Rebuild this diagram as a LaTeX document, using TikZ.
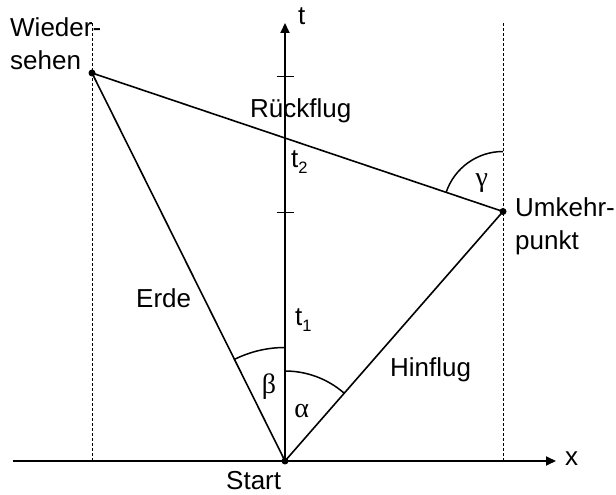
\documentclass[tikz,border=0pt]{standalone}
\usepackage{fontspec}
\setmainfont{Liberation Sans}
\newfontfamily\greekfont{Liberation Serif}
\usetikzlibrary{arrows.meta,angles}
\begin{document}
\begin{tikzpicture}[x=1pt,y=1pt,
  lbl/.style={font=\fontsize{26}{30}\selectfont, inner sep=0pt, anchor=base west},
  glbl/.style={font=\greekfont\fontsize{28}{30}\selectfont, inner sep=0pt},
  axis/.style={line width=1.8pt, -{Triangle[length=10pt,width=9pt]}},
  side/.style={line width=1.6pt},
  guide/.style={line width=0.8pt, dash pattern=on 3pt off 2pt},
  dot/.style={circle, fill=black, inner sep=0pt, minimum size=7pt},
  arcstyle/.style={draw, line width=1.5pt}
]
\useasboundingbox (0,0) rectangle (616,495);
% key points
\coordinate (S) at (285,34);
\coordinate (W) at (92,422);
\coordinate (U) at (503,283.5);
\coordinate (xl) at (12.7,34);
\coordinate (xr) at (556,34);
\coordinate (tt) at (285,472);
\coordinate (up) at (285,300);
\coordinate (Uup) at (503,400);
\coordinate (gl1) at (92,473);
\coordinate (gl0) at (92,34);
\coordinate (gr1) at (503,473);
\coordinate (gr0) at (503,34);
\coordinate (k1l) at (276.5,418.3);
\coordinate (k1r) at (293.5,418.3);
\coordinate (k2l) at (276.5,282.7);
\coordinate (k2r) at (293.5,282.7);
% guides
\draw[guide] (gl0) -- (gl1);
\draw[guide] (gr0) -- (gr1);
% axes
\draw[axis] (xl) -- (xr);
\draw[axis] (S) -- (tt);
\draw[line width=1.2pt] (k1l) -- (k1r);
\draw[line width=1.2pt] (k2l) -- (k2r);
% triangle
\draw[side] (S) -- (W);
\draw[side] (S) -- (U);
\draw[side] (W) -- (U);
% angles
\pic[arcstyle, angle radius=113.5pt] {angle = up--S--W};
\pic[arcstyle, angle radius=90pt] {angle = U--S--up};
\pic[arcstyle, angle radius=60pt] {angle = Uup--U--W};
% dots
\node[dot] (dS) at (S) {};
\node[dot] (dW) at (W) {};
\node[dot] (dU) at (U) {};
% labels
\node[lbl] (lt) at (298,470) {t};
\node[lbl] (lx) at (565,29) {x};
\node[lbl] (lr) at (250,377) {Rückflug};
\node[lbl] (lt2) at (291,327.3) {t\raisebox{-5.5pt}{\fontsize{16.5}{16}\selectfont 2}};
\node[lbl] (lt1) at (295,169) {t\raisebox{-5.5pt}{\fontsize{16.5}{16}\selectfont 1}};
\node[lbl] (le) at (136,187) {Erde};
\node[lbl] (lh) at (390,118.3) {Hinflug};
\node[lbl] (ls) at (226,5) {Start};
\node[lbl] (lw1) at (10,458.3) {Wieder-};
\node[lbl] (lw2) at (10,425.7) {sehen};
\node[lbl] (lu1) at (515,278.3) {Umkehr-};
\node[lbl] (lu2) at (515,245.5) {punkt};
\node[glbl] (lb) at (269,108.3) {β};
\node[glbl] (la) at (301.7,84.3) {α};
\node[glbl] (lg) at (481.7,311.7) {γ};
\end{tikzpicture}
\end{document}
